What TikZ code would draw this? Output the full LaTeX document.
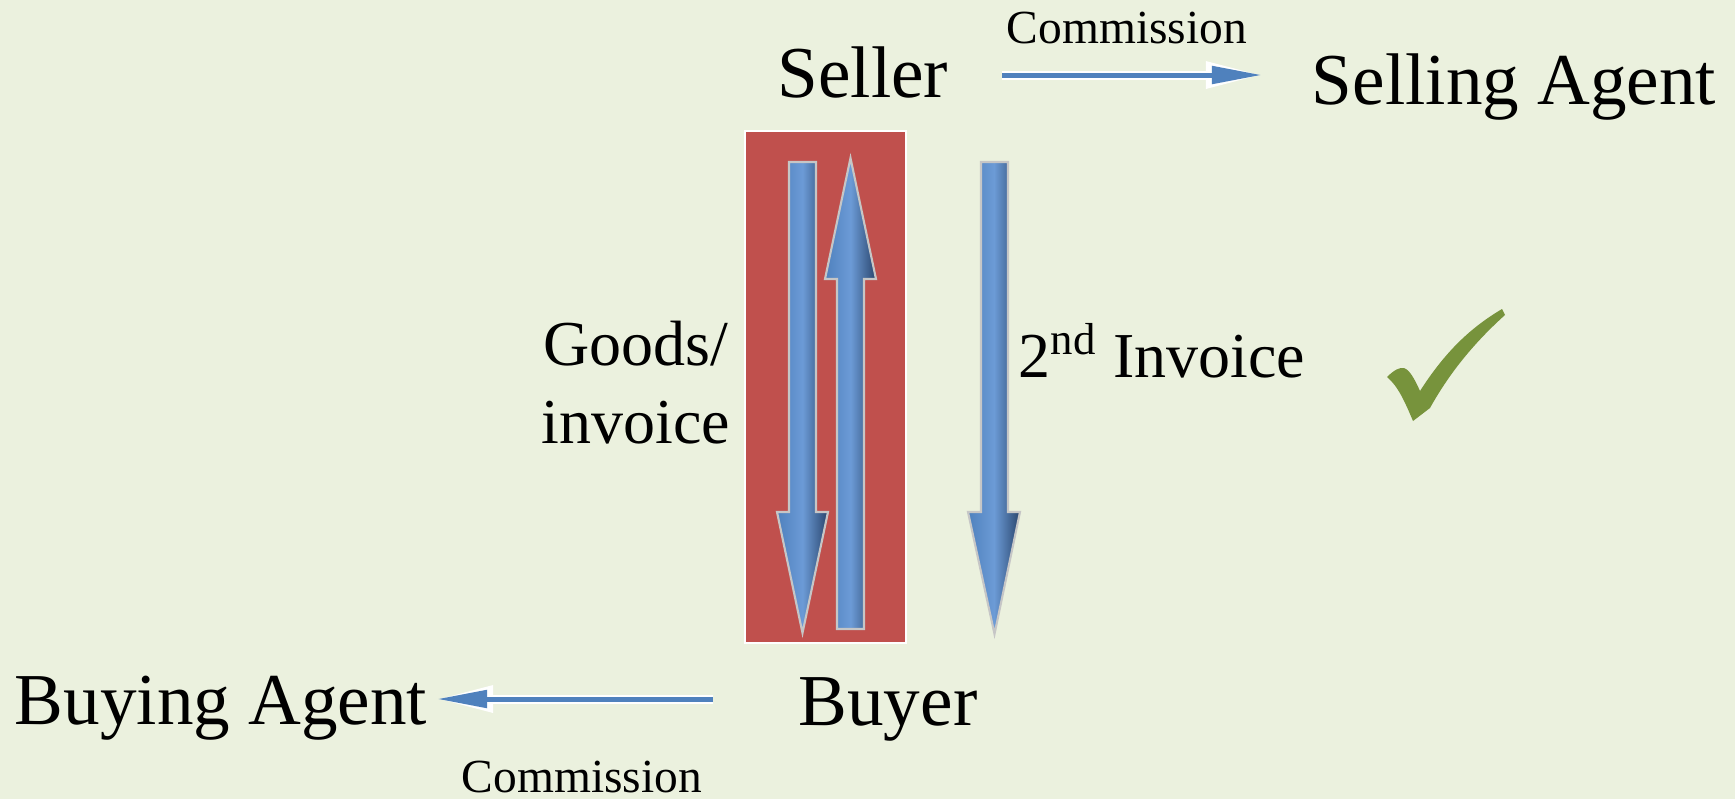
\documentclass[tikz,border=0pt]{standalone}
\usepackage{fontspec}
\setmainfont{Liberation Serif}
\usetikzlibrary{arrows.meta}
\definecolor{bgcol}{RGB}{235,241,222}
\definecolor{boxred}{RGB}{192,80,77}
\definecolor{arrblue}{RGB}{79,129,189}
\definecolor{arrlight}{RGB}{108,155,214}
\definecolor{arrdark}{RGB}{42,70,110}
\definecolor{tickgreen}{RGB}{119,147,60}

\begin{document}
\begin{tikzpicture}[x=0.01cm, y=-0.01cm,
  big/.style={font=\fontsize{20.8}{25}\selectfont, anchor=base, inner sep=0pt},
  mid/.style={font=\fontsize{18.2}{22.2}\selectfont, inner sep=0pt},
  small/.style={font=\fontsize{13.5}{16}\selectfont, anchor=base, inner sep=0pt},
  fat/.style={left color=arrblue, right color=arrdark, middle color=arrlight, draw=gray!45, line width=0.6pt},
  comm/.style={draw=arrblue, line width=0.05cm, -{Triangle[length=0.5cm,width=0.17cm]},
    preaction={draw=white, line width=0.09cm, -{Triangle[length=0.56cm,width=0.25cm]}}}]
  % ozadje
  \fill[bgcol] (0,0) rectangle (1735,799);
  \useasboundingbox (0,0) rectangle (1735,799);

  % rdec okvir
  \draw[white, fill=boxred, line width=0.02cm] (745,131) rectangle (906,643);

  % debele puscice
  \shade[fat] (789,162) -- (816,162) -- (816,512) -- (828,512) -- (802.5,633) -- (777,512) -- (789,512) -- cycle;
  \shade[fat] (837,629) -- (864,629) -- (864,279) -- (876,279) -- (850.5,158) -- (825,279) -- (837,279) -- cycle;
  \shade[fat] (981,162) -- (1008,162) -- (1008,512) -- (1020,512) -- (994.5,634) -- (968,512) -- (981,512) -- cycle;

  % oznake
  \node[big] (seller) at (863,97)  {Seller};
  \node[big] (sagent) at (1514,104) {Selling Agent};
  \node[big] (buyer)  at (888,725) {Buyer};
  \node[big] (bagent) at (221,724) {Buying Agent};
  \node[mid, align=center] (goods) at (636,383) {Goods/\\invoice};
  \node[mid, anchor=base] (inv2) at (1162,377) {2\textsuperscript{nd} Invoice};
  \node[small] (comm1) at (1127,43) {Commission};
  \node[small] (comm2) at (582,792) {Commission};

  % provizija
  \coordinate (s1) at (1002,75);
  \coordinate (s2) at (1262,75);
  \coordinate (b1) at (713,699);
  \coordinate (b2) at (437,699);
  \draw[comm] (s1) -- (s2);
  \draw[comm] (b1) -- (b2);

  % kljukica
  \fill[tickgreen] (1387,377) .. controls (1394,370) and (1400,367) .. (1404,368)
    .. controls (1410,370) and (1415,380) .. (1420,391)
    .. controls (1445,352) and (1470,328) .. (1502,309) -- (1505,315)
    .. controls (1475,342) and (1450,372) .. (1430,408) -- (1413,421)
    .. controls (1405,402) and (1398,386) .. cycle;
\end{tikzpicture}
\end{document}
